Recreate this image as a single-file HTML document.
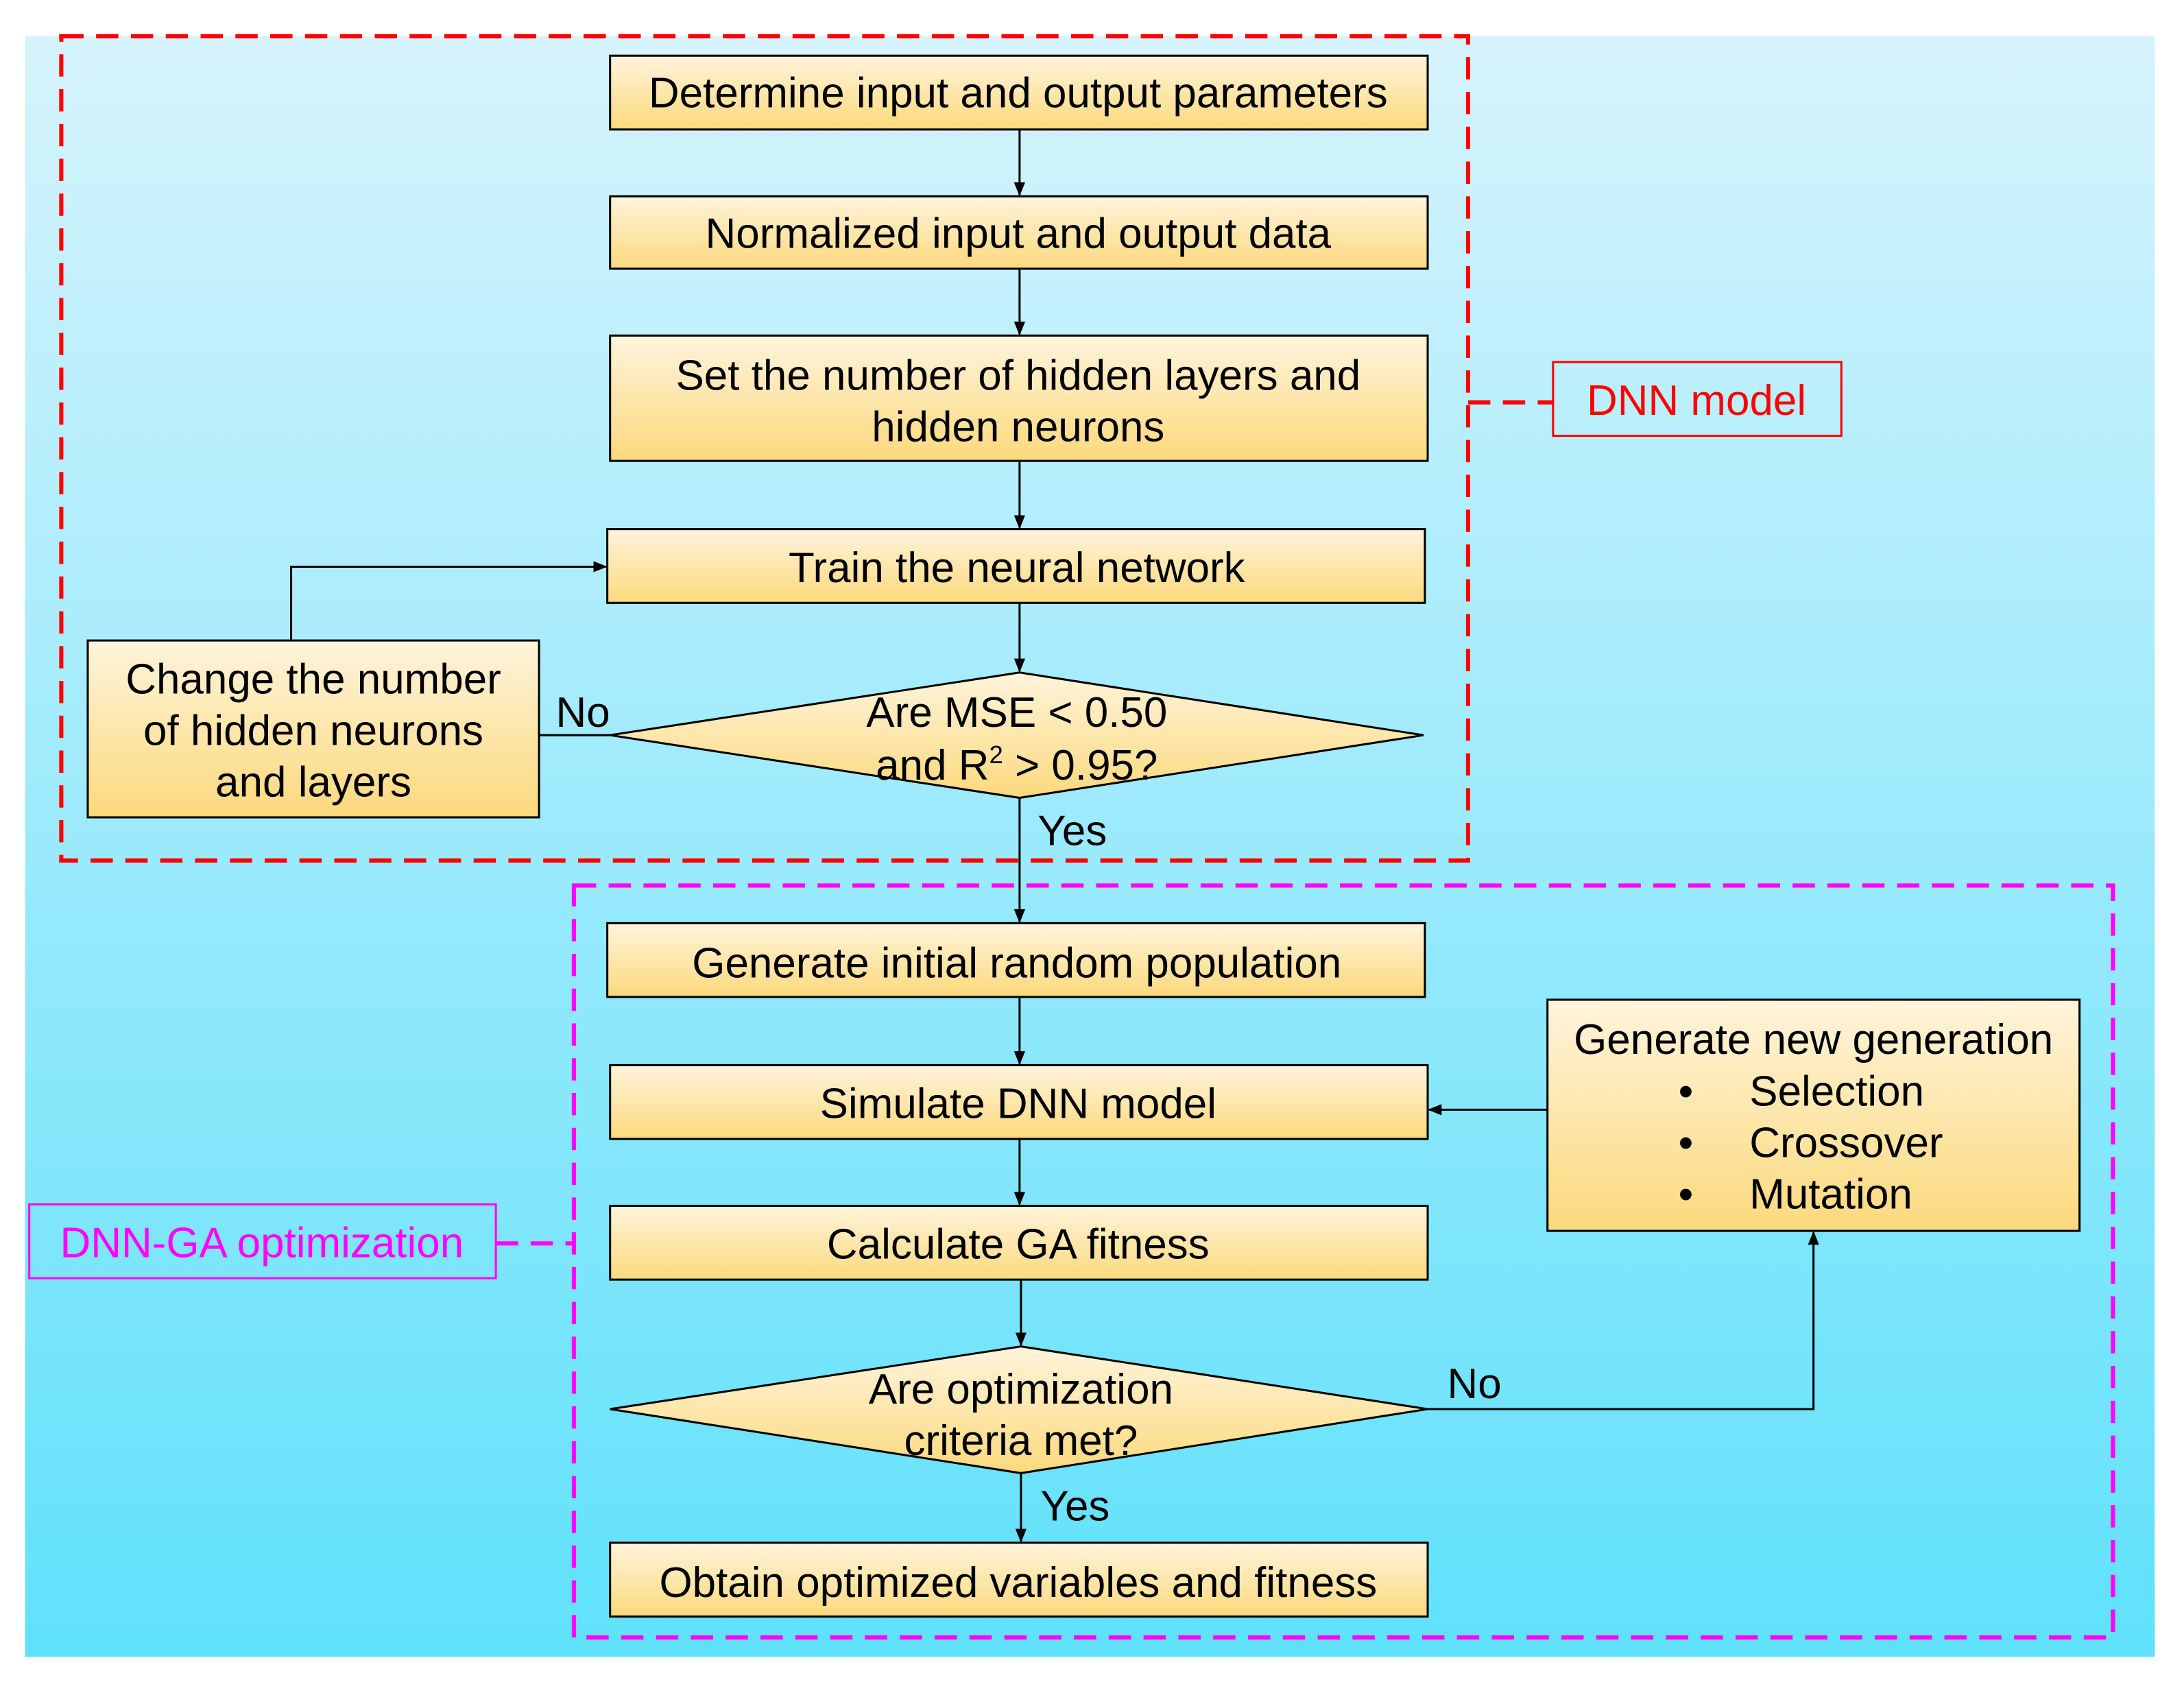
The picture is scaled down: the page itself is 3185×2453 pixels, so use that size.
<!DOCTYPE html>
<html><head><meta charset="utf-8"><style>html,body{margin:0;padding:0;background:#fff}svg{display:block}</style></head>
<body>
<svg width="3185" height="2453" viewBox="0 0 1568 1208" preserveAspectRatio="none" xmlns="http://www.w3.org/2000/svg" font-family="Liberation Sans, sans-serif">
<defs>
<linearGradient id="bg" x1="0" y1="0" x2="0" y2="1"><stop offset="0" stop-color="#d6f3fc"/><stop offset="1" stop-color="#5fe1fb"/></linearGradient>
<linearGradient id="bx" x1="0" y1="0" x2="0" y2="1"><stop offset="0" stop-color="#fff4dc"/><stop offset="1" stop-color="#fbd97c"/></linearGradient>
<marker id="ar" markerWidth="10" markerHeight="10" refX="9" refY="5" orient="auto" markerUnits="userSpaceOnUse"><path d="M0,1 L10,5 L0,9 z" fill="#000"/></marker>
</defs>
<rect x="18" y="26" width="1529" height="1164" fill="url(#bg)"/>
<g fill="url(#bx)" stroke="#000" stroke-width="1.5">
<rect x="438" y="40" width="587" height="53"/>
<rect x="438" y="141" width="587" height="52"/>
<rect x="438" y="241" width="587" height="90"/>
<rect x="436" y="380" width="587" height="53"/>
<polygon points="438,528 732,483 1022,528 732,573"/>
<rect x="63" y="460" width="324" height="127"/>
<rect x="436" y="663" width="587" height="53"/>
<rect x="438" y="765" width="587" height="53"/>
<rect x="438" y="866" width="587" height="53"/>
<polygon points="438,1012 733,967 1025,1012 733,1058"/>
<rect x="438" y="1108" width="587" height="53"/>
<rect x="1111" y="718" width="382" height="166"/>
</g>
<g stroke="#000" stroke-width="1.5" fill="none" marker-end="url(#ar)">
<line x1="732" y1="93" x2="732" y2="140"/>
<line x1="732" y1="193" x2="732" y2="240"/>
<line x1="732" y1="331" x2="732" y2="379"/>
<line x1="732" y1="433" x2="732" y2="482"/>
<polyline points="209,460 209,407 435,407"/>
<line x1="732" y1="573" x2="732" y2="662"/>
<line x1="732" y1="716" x2="732" y2="764"/>
<line x1="732" y1="818" x2="732" y2="865"/>
<line x1="733" y1="919" x2="733" y2="966"/>
<line x1="733" y1="1058" x2="733" y2="1107"/>
<line x1="1111" y1="797" x2="1026" y2="797"/>
<polyline points="1025,1012 1302,1012 1302,885"/>
</g>
<line x1="387" y1="528" x2="438" y2="528" stroke="#000" stroke-width="1.5"/>
<rect x="44" y="26" width="1010" height="592" fill="none" stroke="#f00" stroke-width="3" stroke-dasharray="16,9"/>
<line x1="1054" y1="289" x2="1115" y2="289" stroke="#f00" stroke-width="3" stroke-dasharray="16,9"/>
<rect x="1115" y="260" width="207" height="53" fill="none" stroke="#f00" stroke-width="1.5"/>
<rect x="412" y="636" width="1105" height="540" fill="none" stroke="#f0f" stroke-width="3" stroke-dasharray="16,9"/>
<line x1="356" y1="893" x2="412" y2="893" stroke="#f0f" stroke-width="3" stroke-dasharray="16,9"/>
<rect x="21" y="865" width="335" height="53" fill="none" stroke="#f0f" stroke-width="1.5"/>
<g font-size="30.5" fill="#000" text-anchor="middle">
<text x="731" y="77">Determine input and output parameters</text>
<text x="731" y="178">Normalized input and output data</text>
<text x="731" y="280">Set the number of hidden layers and</text>
<text x="731" y="317">hidden neurons</text>
<text x="730" y="418">Train the neural network</text>
<text x="730" y="522">Are MSE &lt; 0.50</text>
<text x="730" y="560">and R<tspan font-size="18" dy="-12">2</tspan><tspan dy="12"> &gt; 0.95?</tspan></text>
<text x="225" y="498">Change the number</text>
<text x="225" y="535">of hidden neurons</text>
<text x="225" y="572">and layers</text>
<text x="730" y="702">Generate initial random population</text>
<text x="731" y="803">Simulate DNN model</text>
<text x="731" y="904">Calculate GA fitness</text>
<text x="733" y="1008">Are optimization</text>
<text x="733" y="1045">criteria met?</text>
<text x="731" y="1147">Obtain optimized variables and fitness</text>
<text x="1302" y="757">Generate new generation</text>
</g>
<g font-size="30.5" fill="#000">
<text x="1205" y="794">•</text><text x="1256" y="794">Selection</text>
<text x="1205" y="831">•</text><text x="1256" y="831">Crossover</text>
<text x="1205" y="868">•</text><text x="1256" y="868">Mutation</text>
<text x="399" y="522">No</text>
<text x="745" y="607">Yes</text>
<text x="1039" y="1004">No</text>
<text x="747" y="1092">Yes</text>
</g>
<text x="1218" y="298" font-size="30.5" fill="#f00" text-anchor="middle">DNN model</text>
<text x="188" y="903" font-size="30.5" fill="#f0f" text-anchor="middle">DNN-GA optimization</text>
</svg>
</body></html>
